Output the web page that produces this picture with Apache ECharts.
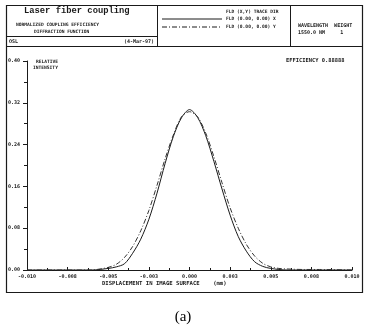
<!DOCTYPE html>
<html><head><meta charset="utf-8">
<script src="https://cdn.jsdelivr.net/npm/echarts@6/dist/echarts.min.js"></script>
<style>html,body{margin:0;padding:0;background:#fff}#c{width:367px;height:330px}</style>
</head><body><div id="c"></div>
<script>
// ---- data ----
var xSolid = [-0.0100,-0.0080,-0.0060,-0.0050,-0.0045,-0.0040,-0.0035,-0.0030,-0.0025,-0.0020,-0.0015,-0.0010,-0.0005,0.0000,0.0005,0.0010,0.0015,0.0020,0.0025,0.0030,0.0035,0.0040,0.0045,0.0050,0.0060,0.0080,0.0100];
var ySolid = [0,0,0.000,0.003,0.006,0.012,0.032,0.059,0.097,0.147,0.204,0.255,0.291,0.307,0.292,0.257,0.208,0.155,0.105,0.064,0.036,0.016,0.007,0.003,0.000,0,0];
var xDash = [-0.0100,-0.0070,-0.0060,-0.0055,-0.0050,-0.0045,-0.0040,-0.0035,-0.0030,-0.0025,-0.0020,-0.0015,-0.0010,-0.0005,0.0000,0.0005,0.0010,0.0015,0.0020,0.0025,0.0030,0.0035,0.0040,0.0045,0.0050,0.0055,0.0060,0.0070,0.0080,0.0100];
var yDash = [0,0.000,0.000,0.002,0.005,0.011,0.024,0.045,0.075,0.114,0.162,0.213,0.258,0.293,0.303,0.293,0.262,0.217,0.167,0.119,0.080,0.049,0.027,0.013,0.006,0.003,0.002,0.001,0.001,0.000];
var xTickLabels = ['-0.010','-0.008','-0.005','-0.003','0.000','0.003','0.005','0.008','0.010'];
var yTickLabels = ['0.00','0.08','0.16','0.24','0.32','0.40'];
var xMin = -0.010, xMax = 0.010, xStep = 0.0025;
var yMin = 0, yMax = 0.40, yStep = 0.08;

var chart = echarts.init(document.getElementById('c'), null, {renderer:'canvas'});
var F = 'DejaVu Sans Mono';
var ink = '#1a1a1a';
function zip(a,b){var r=[];for(var i=0;i<a.length;i++)r.push([a[i],b[i]]);return r;}
function ln(x1,y1,x2,y2,w,dash){return {type:'line',silent:true,shape:{x1:x1,y1:y1,x2:x2,y2:y2},style:{stroke:ink,lineWidth:w||1,lineDash:dash||null}};}
function t(s,x,y,size,opt){opt=opt||{};return {type:'text',silent:true,style:{text:s,x:x,y:y,font:(opt.w||'bold')+' '+size+'px "'+(opt.f||F)+'"',fill:opt.c||ink,textAlign:opt.a||'left',textVerticalAlign:'middle'}};}

var graphics = [
  {type:'rect',silent:true,shape:{x:6.5,y:5.5,width:356,height:287},style:{fill:null,stroke:ink,lineWidth:1.2}},
  ln(6,46.5,363,46.5,1.2),
  ln(6,36.5,157,36.5,1),
  ln(157.5,5,157.5,46,1),
  ln(290.5,5,290.5,46,1),
  ln(162,19,222,19,1),
  ln(162,27,222,27,1,[5,2,1,2]),
  t('Laser fiber coupling',24,11,8.8,{f:'Liberation Mono'}),
  t('NORMALIZED COUPLING EFFICIENCY',16,25,4.6),
  t('DIFFRACTION FUNCTION',34,31.5,4.6),
  t('OSL',9,41.5,5),
  t('(4-Mar-97)',154,41.5,5,{a:'right'}),
  t('FLD (X,Y) TRACE DIR',226,12,4.6),
  t('FLD (0.00, 0.00) X',226,19,4.6),
  t('FLD (0.00, 0.00) Y',226,27,4.6),
  t('WAVELENGTH  WEIGHT',298,26,5),
  t('1550.0 NM     1',298,33,5),
  t('RELATIVE',36,62,4.6),
  t('INTENSITY',33,68,4.6),
  t('EFFICIENCY 0.88888',286,61,5.4),
  t('DISPLACEMENT IN IMAGE SURFACE    (mm)',102,284,5.6),
  t('(a)',183,317,15,{w:'normal',f:'Liberation Serif',a:'center',c:'#000'})
];

chart.setOption({
  animation:false,
  backgroundColor:'#fff',
  grid:{left:27,right:15,top:61,bottom:60,containLabel:false},
  xAxis:{type:'value',min:xMin,max:xMax,interval:xStep,
    axisLine:{onZero:false,lineStyle:{color:ink,width:1}},
    axisTick:{inside:true,length:3,lineStyle:{color:ink}},
    minorTick:{show:true,splitNumber:2,length:2,lineStyle:{color:ink}},
    splitLine:{show:false},
    axisLabel:{fontFamily:F,fontWeight:'bold',fontSize:5,color:ink,margin:4,
      formatter:function(v){return xTickLabels[Math.round((v-xMin)/xStep)];}}},
  yAxis:{type:'value',min:yMin,max:yMax,interval:yStep,position:'left',
    axisLine:{show:true,onZero:false,lineStyle:{color:ink,width:1}},
    axisTick:{show:true,inside:false,length:4,lineStyle:{color:ink}},
    minorTick:{show:true,splitNumber:2,length:3,lineStyle:{color:ink}},
    splitLine:{show:false},
    axisLabel:{fontFamily:F,fontWeight:'bold',fontSize:5,color:ink,margin:7,
      formatter:function(v){return yTickLabels[Math.round((v-yMin)/yStep)];}}},
  series:[
    {type:'line',data:zip(xSolid,ySolid),smooth:0.3,symbol:'none',lineStyle:{color:ink,width:1}},
    {type:'line',data:zip(xDash,yDash),smooth:0.3,symbol:'none',lineStyle:{color:'#333',width:1,type:[5,2,1,2]}}
  ],
  graphic:graphics
});
</script></body></html>
